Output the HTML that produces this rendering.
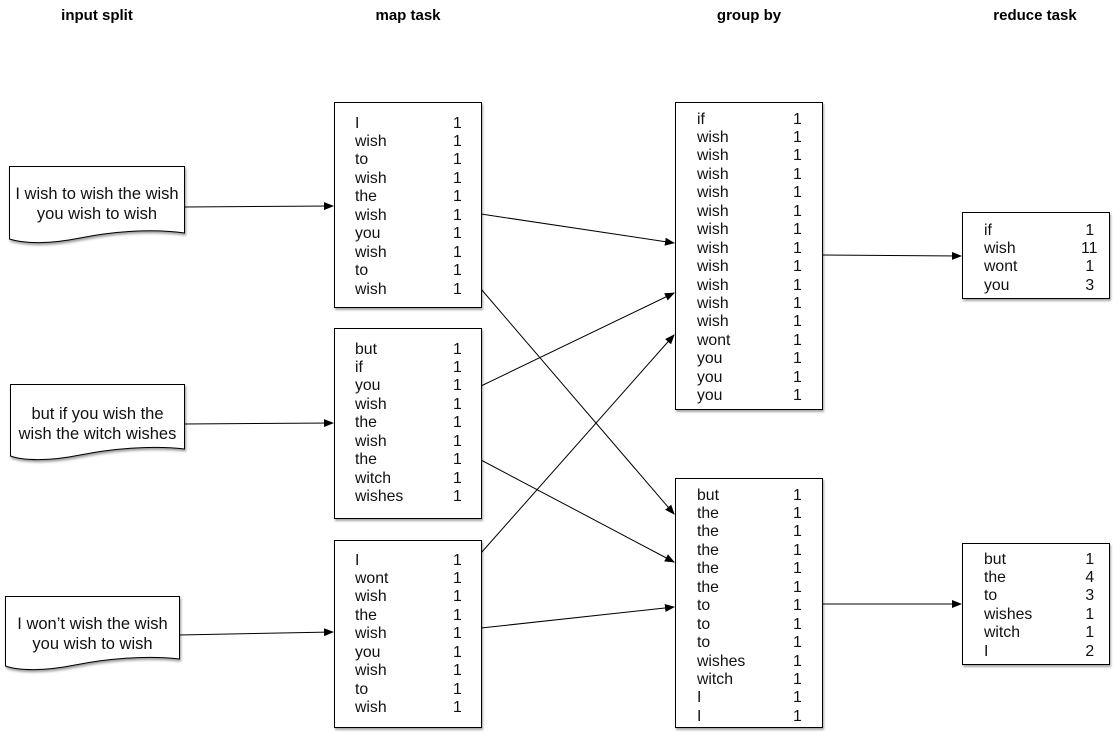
<!DOCTYPE html>
<html><head><meta charset="utf-8"><style>
body{margin:0;width:1113px;height:735px;background:#fff;position:relative;overflow:hidden;font-family:"Liberation Sans",Arial,sans-serif;}
.h{position:absolute;top:7px;font-weight:bold;font-size:15px;transform:translateX(-50%);white-space:nowrap}
.box{position:absolute;border:1px solid #000;background:#fff;box-shadow:1px 2px 2px rgba(0,0,0,.35);box-sizing:border-box}
.c{position:absolute;font-size:15.8px;line-height:18.45px;white-space:nowrap;color:#111}
.d{position:absolute;font-size:16.5px;line-height:20px;text-align:center;white-space:nowrap;color:#111}
svg{position:absolute;left:0;top:0}
</style></head><body>
<div class="h" style="left:97px">input split</div>
<div class="h" style="left:408px">map task</div>
<div class="h" style="left:749px">group by</div>
<div class="h" style="left:1035px">reduce task</div>

<svg width="1113" height="735">
<defs>
<filter id="s" x="-10%" y="-10%" width="130%" height="130%"><feDropShadow dx="1" dy="2" stdDeviation="1.2" flood-opacity="0.4"/></filter>
<marker id="a" markerWidth="10" markerHeight="8" refX="9" refY="4" orient="auto" markerUnits="userSpaceOnUse"><path d="M0,0 L10,4 L0,8 z" fill="#000"/></marker>
</defs>
<g fill="#fff" stroke="#000" stroke-width="1" filter="url(#s)">
<path d="M9.5,166.5 H184.5 V233 C150,228 110,232 80,238 C50,244 25,244 9.5,239 Z"/>
<path d="M10.5,384.5 H184.5 V449 C150,445 110,449 80,455 C50,461 25,461 10.5,456 Z"/>
<path d="M5.5,596.5 H179.5 V659 C145,655 105,659 75,665 C45,671 20,671 5.5,666 Z"/>
</g>
<g stroke="#000" stroke-width="1" fill="none" marker-end="url(#a)">
<line x1="184" y1="207" x2="333" y2="206"/>
<line x1="184" y1="424" x2="333" y2="423"/>
<line x1="179" y1="635" x2="333" y2="632"/>
<line x1="481" y1="214" x2="674" y2="243"/>
<line x1="481" y1="289" x2="674" y2="514"/>
<line x1="481" y1="386" x2="674" y2="293"/>
<line x1="481" y1="460" x2="674" y2="562"/>
<line x1="481" y1="553" x2="674" y2="335"/>
<line x1="481" y1="628" x2="674" y2="607"/>
<line x1="822" y1="255" x2="961" y2="256"/>
<line x1="822" y1="604" x2="961" y2="604"/>
</g>
</svg>

<div class="d" style="left:9px;top:184px;width:176px">I wish to wish the wish<br>you wish to wish</div>
<div class="d" style="left:10px;top:404px;width:175px">but if you wish the<br>wish the witch wishes</div>
<div class="d" style="left:5px;top:614px;width:175px">I won’t wish the wish<br>you wish to wish</div>

<div class="box" style="left:334px;top:102px;width:148px;height:206px"></div>
<div class="c" style="left:355px;top:114.5px">I<br>wish<br>to<br>wish<br>the<br>wish<br>you<br>wish<br>to<br>wish</div>
<div class="c" style="left:453px;top:114.5px">1<br>1<br>1<br>1<br>1<br>1<br>1<br>1<br>1<br>1</div>

<div class="box" style="left:334px;top:328px;width:148px;height:191px"></div>
<div class="c" style="left:355px;top:340.5px">but<br>if<br>you<br>wish<br>the<br>wish<br>the<br>witch<br>wishes</div>
<div class="c" style="left:453px;top:340.5px">1<br>1<br>1<br>1<br>1<br>1<br>1<br>1<br>1</div>

<div class="box" style="left:334px;top:540px;width:148px;height:188px"></div>
<div class="c" style="left:355px;top:551.5px">I<br>wont<br>wish<br>the<br>wish<br>you<br>wish<br>to<br>wish</div>
<div class="c" style="left:453px;top:551.5px">1<br>1<br>1<br>1<br>1<br>1<br>1<br>1<br>1</div>

<div class="box" style="left:675px;top:102px;width:148px;height:308px"></div>
<div class="c" style="left:697px;top:110.5px">if<br>wish<br>wish<br>wish<br>wish<br>wish<br>wish<br>wish<br>wish<br>wish<br>wish<br>wish<br>wont<br>you<br>you<br>you</div>
<div class="c" style="left:793px;top:110.5px">1<br>1<br>1<br>1<br>1<br>1<br>1<br>1<br>1<br>1<br>1<br>1<br>1<br>1<br>1<br>1</div>

<div class="box" style="left:675px;top:478px;width:148px;height:250px"></div>
<div class="c" style="left:697px;top:486.5px">but<br>the<br>the<br>the<br>the<br>the<br>to<br>to<br>to<br>wishes<br>witch<br>I<br>I</div>
<div class="c" style="left:793px;top:486.5px">1<br>1<br>1<br>1<br>1<br>1<br>1<br>1<br>1<br>1<br>1<br>1<br>1</div>

<div class="box" style="left:962px;top:212px;width:148px;height:87px"></div>
<div class="c" style="left:984px;top:221.5px">if<br>wish<br>wont<br>you</div>
<div class="c" style="left:1081px;top:221.5px">&nbsp;1<br>11<br>&nbsp;1<br>&nbsp;3</div>

<div class="box" style="left:962px;top:543px;width:148px;height:122px"></div>
<div class="c" style="left:984px;top:550.5px">but<br>the<br>to<br>wishes<br>witch<br>I</div>
<div class="c" style="left:1081px;top:550.5px">&nbsp;1<br>&nbsp;4<br>&nbsp;3<br>&nbsp;1<br>&nbsp;1<br>&nbsp;2</div>
</body></html>
